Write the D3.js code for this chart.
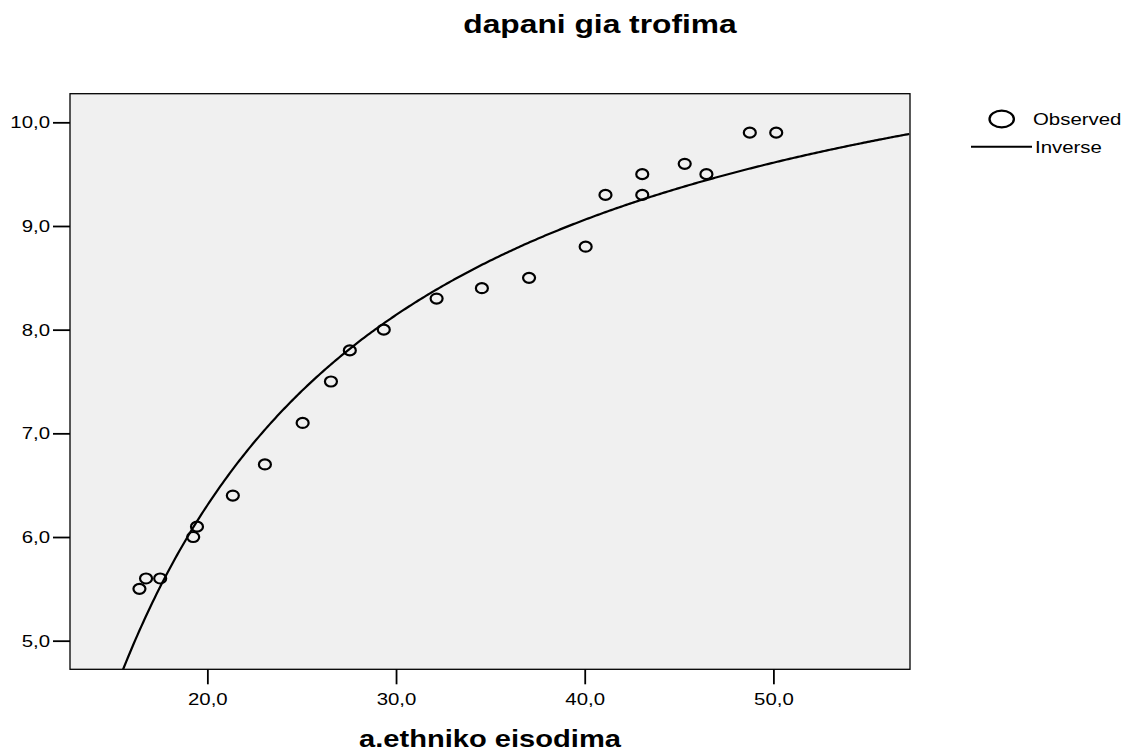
<!DOCTYPE html>
<html>
<head>
<meta charset="utf-8">
<script src="https://cdn.jsdelivr.net/npm/d3@7"></script>
<style>
  body { margin: 0; background: #fff; }
  svg { display: block; font-family: "Liberation Sans", Arial, sans-serif; }
</style>
</head>
<body>
<svg id="chart" width="1136" height="751"></svg>
<script>
var income = [16.4, 16.75, 17.5, 19.25, 19.45, 21.35, 23.05, 25.05, 26.55, 27.55, 29.35,
              32.15, 34.55, 37.05, 40.05, 41.1, 43.05, 43.05, 45.3, 46.45, 48.75, 50.15];
var food   = [5.5, 5.6, 5.6, 6.0, 6.1, 6.4, 6.7, 7.1, 7.5, 7.8, 8.0,
              8.3, 8.4, 8.5, 8.8, 9.3, 9.3, 9.5, 9.6, 9.5, 9.9, 9.9];
var xTicks = [20, 30, 40, 50];
var yTicks = [5, 6, 7, 8, 9, 10];
var legendLabels = ["Observed", "Inverse"];

var width = 1136, height = 751;
var plot = {left: 70, right: 910, top: 93.7, bottom: 669.3};
var stretch = 1.2; // text in the original is a bit wide

var svg = d3.select("#chart");

var xScale = d3.scaleLinear().domain([12.72, 57.24]).range([plot.left, plot.right]);
var yScale = d3.scaleLinear().domain([4.724, 10.276]).range([plot.bottom, plot.top]);

var fmt = d3.formatLocale({decimal: ",", thousands: ".", grouping: [3], currency: ["", ""]}).format(".1f");

// inverse model y = b0 + b1/x, least squares on the observed data
var u = income.map(d => 1 / d);
var mu = d3.mean(u), my = d3.mean(food);
var sxy = d3.sum(u, (d, i) => (d - mu) * (food[i] - my));
var sxx = d3.sum(u, d => (d - mu) * (d - mu));
var b1 = sxy / sxx, b0 = my - b1 * mu;

// plot background
svg.append("rect")
  .attr("x", plot.left).attr("y", plot.top)
  .attr("width", plot.right - plot.left).attr("height", plot.bottom - plot.top)
  .attr("fill", "#f0f0f0");

svg.append("clipPath").attr("id", "clip")
  .append("rect")
  .attr("x", plot.left).attr("y", plot.top)
  .attr("width", plot.right - plot.left).attr("height", plot.bottom - plot.top);

// fit line
var curveX = d3.range(14, 57.3, 0.1);
var line = d3.line()
  .x(d => xScale(d))
  .y(d => yScale(b0 + b1 / d));
svg.append("path")
  .attr("clip-path", "url(#clip)")
  .attr("d", line(curveX))
  .attr("fill", "none")
  .attr("stroke", "#000")
  .attr("stroke-width", 2.2);

// observed points
svg.append("g").selectAll("ellipse")
  .data(income)
  .enter()
  .append("ellipse")
  .attr("cx", d => xScale(d))
  .attr("cy", (d, i) => yScale(food[i]))
  .attr("rx", 6)
  .attr("ry", 5)
  .attr("fill", "none")
  .attr("stroke", "#000")
  .attr("stroke-width", 2.2);

// border
svg.append("rect")
  .attr("x", plot.left).attr("y", plot.top)
  .attr("width", plot.right - plot.left).attr("height", plot.bottom - plot.top)
  .attr("fill", "none")
  .attr("stroke", "#000")
  .attr("stroke-width", 1.3);

// axes
var xAxis = d3.axisBottom(xScale).tickValues(xTicks).tickFormat(fmt).tickSize(15).tickPadding(9);
var yAxis = d3.axisLeft(yScale).tickValues(yTicks).tickFormat(fmt).tickSize(17).tickPadding(3);

var gx = svg.append("g")
  .attr("transform", "translate(0," + plot.bottom + ")")
  .call(xAxis);
var gy = svg.append("g")
  .attr("transform", "translate(" + plot.left + ",0)")
  .call(yAxis);

[gx, gy].forEach(function (g) {
  g.select(".domain").remove();
  g.selectAll(".tick line").attr("stroke", "#000").attr("stroke-width", 1.8);
  g.selectAll(".tick text")
    .attr("fill", "#000")
    .style("font-family", "'Liberation Sans', Arial, sans-serif")
    .style("font-size", "17px");
});
gx.selectAll(".tick text").attr("transform", "scale(" + stretch + ",1)");
gy.selectAll(".tick text")
  .attr("x", 0)
  .attr("transform", "translate(-20,0) scale(" + stretch + ",1)");

function stretchedText(x, y, str, size, weight, anchor, sx) {
  svg.append("text")
    .attr("transform", "translate(" + x + "," + y + ") scale(" + sx + ",1)")
    .attr("text-anchor", anchor)
    .style("font-size", size + "px")
    .style("font-weight", weight)
    .attr("fill", "#000")
    .text(str);
}

// title and axis title
stretchedText(600, 33, "dapani gia trofima", 25, "bold", "middle", 1.27);
stretchedText((plot.left + plot.right) / 2, 747, "a.ethniko eisodima", 23, "bold", "middle", 1.265);

// legend
svg.append("ellipse")
  .attr("cx", 1001.7).attr("cy", 119)
  .attr("rx", 12.2).attr("ry", 8.3)
  .attr("fill", "none").attr("stroke", "#000").attr("stroke-width", 2.3);
stretchedText(1033, 125, legendLabels[0], 17, "normal", "start", stretch);
svg.append("line")
  .attr("x1", 971).attr("x2", 1032).attr("y1", 146.7).attr("y2", 146.7)
  .attr("stroke", "#000").attr("stroke-width", 2);
stretchedText(1035, 153, legendLabels[1], 17, "normal", "start", stretch);
</script>
</body>
</html>
